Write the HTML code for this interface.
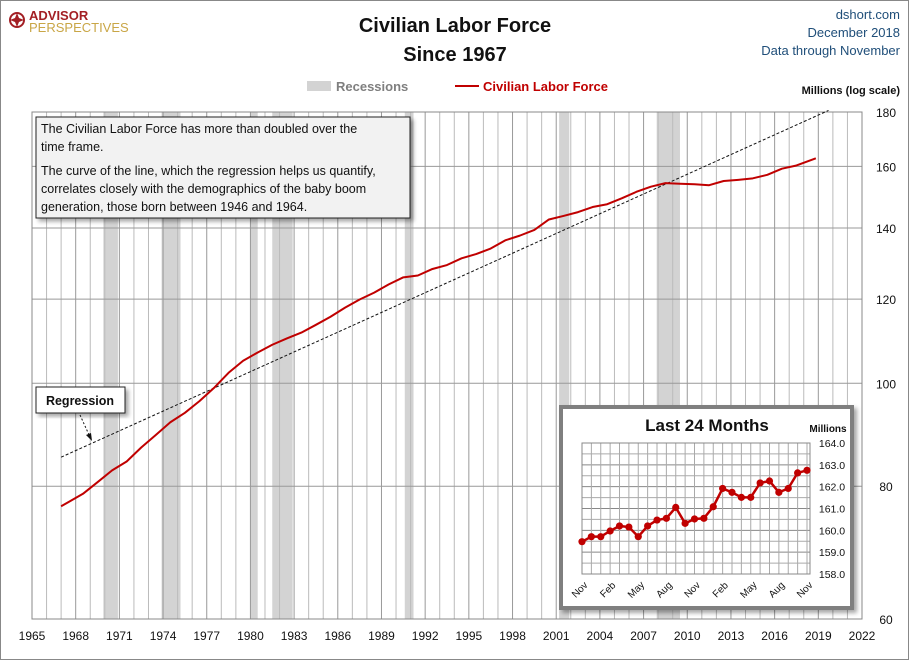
<!DOCTYPE html>
<html><head><meta charset="utf-8">
<style>
body{margin:0;background:#fff;}
svg{display:block;font-family:"Liberation Sans",sans-serif;}
</style></head>
<body>
<svg id="chart" width="910" height="661" viewBox="0 0 910 661" xmlns="http://www.w3.org/2000/svg">
<defs>
<filter id="sh" x="-10%" y="-10%" width="130%" height="130%"><feDropShadow dx="3" dy="3" stdDeviation="2" flood-color="#000" flood-opacity="0.35"/></filter>
</defs>
<rect x="0.5" y="0.5" width="908" height="659" fill="#fff" stroke="#888"/>
<g>
<circle cx="17" cy="20" r="7" fill="none" stroke="#a31f24" stroke-width="2"/>
<path d="M17 13 L19 18 L24 20 L19 22 L17 27 L15 22 L10 20 L15 18Z" fill="#a31f24"/>
<text x="29" y="20" font-size="13" font-weight="bold" fill="#a31f24">ADVISOR</text>
<text x="29" y="32" font-size="13" fill="#c9a646">PERSPECTIVES</text>
</g>
<text x="455" y="32" font-size="20" font-weight="bold" text-anchor="middle" fill="#111">Civilian Labor Force</text>
<text x="455" y="61" font-size="20" font-weight="bold" text-anchor="middle" fill="#111">Since 1967</text>
<g font-size="13" fill="#1f4e79" text-anchor="end">
<text x="900" y="19">dshort.com</text><text x="900" y="37">December 2018</text><text x="900" y="55">Data through November</text>
</g>
<g>
<rect x="307" y="81" width="24" height="10" fill="#d3d3d3"/>
<text x="336" y="91" font-size="13" font-weight="bold" fill="#7f7f7f">Recessions</text>
<line x1="455" y1="86" x2="479" y2="86" stroke="#c00000" stroke-width="2"/>
<text x="483" y="91" font-size="13" font-weight="bold" fill="#c00000">Civilian Labor Force</text>
</g>
<text x="900" y="94" font-size="11" font-weight="bold" text-anchor="end" fill="#111">Millions  (log scale)</text>
<g id="main"></g>
<g>
<rect x="36" y="117" width="374" height="101" fill="#f2f2f2" stroke="#222" filter="url(#sh)"/>
<g font-size="12.5" fill="#111">
<text x="41" y="133">The Civilian Labor Force has more than doubled over the</text>
<text x="41" y="151">time frame.</text>
<text x="41" y="175">The curve of the line, which the regression helps us quantify,</text>
<text x="41" y="193">correlates closely with the demographics of the baby boom</text>
<text x="41" y="211">generation, those born between 1946 and 1964.</text>
</g></g>
<g>
<rect x="36" y="387" width="89" height="26" fill="#fff" stroke="#222" filter="url(#sh)"/>
<text x="80" y="405" font-size="12.5" font-weight="bold" text-anchor="middle" fill="#111">Regression</text>
<line x1="80" y1="415" x2="90" y2="437" stroke="#111" stroke-dasharray="2,2"/>
<path d="M92 441 L86 435 L91 433Z" fill="#111"/>
</g>
<g id="inset"></g>
</svg>
<script>
// ===== main chart data =====
const recStart=[1969.9,1973.9,1980.0,1981.5,1990.6,2001.2,2007.9];
const recEnd=[1970.9,1975.2,1980.5,1982.9,1991.2,2001.9,2009.5];
const years=[1967.0,1967.5,1968.5,1969.5,1970.5,1971.5,1972.5,1973.5,1974.5,1975.5,1976.5,1977.5,1978.5,1979.5,1980.5,1981.5,1982.5,1983.5,1984.5,1985.5,1986.5,1987.5,1988.5,1989.5,1990.5,1991.5,1992.5,1993.5,1994.5,1995.5,1996.5,1997.5,1998.5,1999.5,2000.5,2001.5,2002.5,2003.5,2004.5,2005.5,2006.5,2007.5,2008.5,2009.5,2010.5,2011.5,2012.5,2013.5,2014.5,2015.5,2016.5,2017.5,2018.83];
const laborForce=[76.6,77.3,78.7,80.7,82.8,84.4,87.0,89.4,91.9,93.8,96.2,99.0,102.3,105.0,106.9,108.7,110.2,111.6,113.5,115.5,117.8,119.9,121.7,123.9,125.8,126.3,128.1,129.2,131.1,132.3,133.9,136.3,137.7,139.4,142.6,143.7,144.9,146.5,147.4,149.3,151.4,153.1,154.3,154.1,153.9,153.6,155.0,155.4,155.9,157.1,159.2,160.3,162.8];
const regYears=[1967,2019.7];
const regValues=[85.2,180.6];
const yTicks=[60,80,100,120,140,160,180];
const xTicks=[1965,1968,1971,1974,1977,1980,1983,1986,1989,1992,1995,1998,2001,2004,2007,2010,2013,2016,2019,2022];
// ===== inset data =====
const insetLabels=["Nov","Feb","May","Aug","Nov","Feb","May","Aug","Nov"];
const insetValues=[159.48,159.71,159.71,159.97,160.2,160.15,159.71,160.2,160.47,160.55,161.05,160.32,160.52,160.55,161.08,161.92,161.74,161.51,161.51,162.17,162.26,161.74,161.92,162.63,162.75];
const insetTicks=[158,159,160,161,162,163,164];

const NS="http://www.w3.org/2000/svg";
function mk(tag,attrs,parent,txt){const e=document.createElementNS(NS,tag);for(const k in attrs)e.setAttribute(k,attrs[k]);if(txt!==undefined)e.textContent=txt;parent.appendChild(e);return e;}
const L=32,R=862,T=112,B=619;
const X=y=>L+(y-1965)*(R-L)/57;
const Y=v=>B-Math.log(v/60)*(B-T)/Math.log(3);
const g=document.getElementById('main');
for(let i=0;i<recStart.length;i++){
  const r=mk('rect',{x:X(recStart[i]),y:T,width:X(recEnd[i])-X(recStart[i]),height:B-T,fill:'#d3d3d3'},g);
  
  
}
for(let yr=1966;yr<2022;yr++){
  const l=mk('line',{x1:X(yr),x2:X(yr),y1:T,y2:B,stroke:(yr-1965)%3==0?'#999':'#bbb','stroke-width':1},g);
  
  
}
yTicks.forEach(v=>{
  const l=mk('line',{x1:L,x2:R,y1:Y(v),y2:Y(v),stroke:'#999'},g);
  
  
  const t=mk('text',{x:886,y:Y(v)+5,'font-size':12,'text-anchor':'middle',fill:'#111'},g,String(v));
  
  
});
xTicks.forEach(yr=>{
  const t=mk('text',{x:X(yr),y:640,'font-size':12,'text-anchor':'middle',fill:'#111'},g,String(yr));
  
  
});
const fr=mk('rect',{x:L,y:T,width:R-L,height:B-T,fill:'none',stroke:'#888'},g);


const reg=mk('line',{x1:X(regYears[0]),y1:Y(regValues[0]),x2:X(regYears[1]),y2:Y(regValues[1]),stroke:'#111','stroke-dasharray':'3,2','stroke-width':1},g);


const pl=mk('polyline',{points:years.map((y,i)=>X(y)+','+Y(laborForce[i])).join(' '),fill:'none',stroke:'#c00000','stroke-width':2,'stroke-linejoin':'round'},g);



// inset
const ig=document.getElementById('inset');
const box=mk('rect',{x:561,y:407,width:291,height:201,fill:'#fff',stroke:'#7f7f7f','stroke-width':4,filter:'url(#sh)'},ig);


const it=mk('text',{x:707,y:431,'font-size':17,'font-weight':'bold','text-anchor':'middle',fill:'#111'},ig,'Last 24 Months');


const im=mk('text',{x:828,y:432,'font-size':10,'font-weight':'bold','text-anchor':'middle',fill:'#111'},ig,'Millions');


const iL=582,iR=810,iT=443,iB=574;
const n=insetValues.length;
const IX=i=>iL+i*(iR-iL-3)/(n-1);
const IY=v=>iB-(v-158)*(iB-iT)/6;
for(let v=158;v<=164;v+=0.5){
  const l=mk('line',{x1:iL,x2:iR,y1:IY(v),y2:IY(v),stroke:v%1==0?'#888':'#aaa'},ig);
  
  
}
for(let i=0;i<n;i++){
  const l=mk('line',{x1:IX(i),x2:IX(i),y1:iT,y2:iB,stroke:'#aaa'},ig);
  
  
}
mk('rect',{x:iL,y:iT,width:iR-iL,height:iB-iT,fill:'none',stroke:'#888'},ig);
insetTicks.forEach(v=>{
  const t=mk('text',{x:832,y:IY(v)+4,'font-size':10.5,'text-anchor':'middle',fill:'#111'},ig,v.toFixed(1));
  
  
});
insetLabels.forEach((s,k)=>{
  const x=IX(k*3),y=592;
  const t=mk('text',{x:x,y:y,'font-size':10,'text-anchor':'middle',fill:'#111',transform:`rotate(-45 ${x} ${y})`},ig,s);
  
  
});
const ipl=mk('polyline',{points:insetValues.map((v,i)=>IX(i)+','+IY(v)).join(' '),fill:'none',stroke:'#c00000','stroke-width':2.5},ig);


insetValues.forEach((v,i)=>{
  const c=mk('circle',{cx:IX(i),cy:IY(v),r:3.6,fill:'#c00000'},ig);
  
  
});
</script>
</body></html>
